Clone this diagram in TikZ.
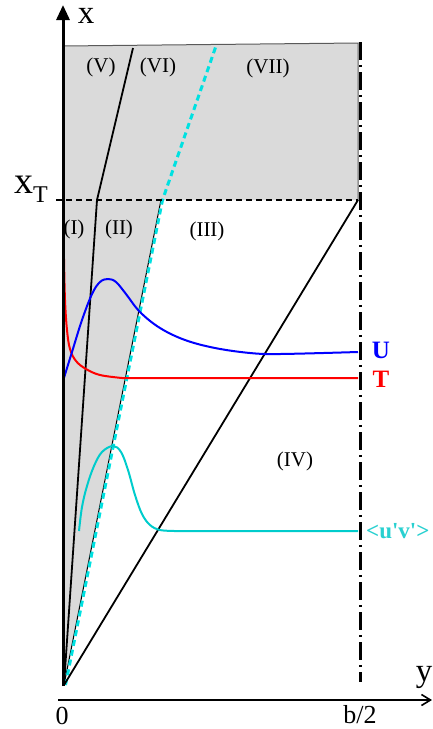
\documentclass[tikz,border=0pt]{standalone}
\usepackage{fontspec}
\setmainfont{Liberation Serif}
\newfontfamily\rawserif[Ligatures=TeXOff]{Liberation Serif}
\usetikzlibrary{arrows.meta}
\definecolor{boxgrey}{RGB}{218,218,218}
\definecolor{boxedge}{RGB}{90,90,90}
\definecolor{cyancurve}{RGB}{0,204,204}
\definecolor{cyandash}{RGB}{0,225,225}
\definecolor{cyantext}{RGB}{40,208,208}
\begin{document}
\begin{tikzpicture}[x=1pt,y=-1pt,
  reg/.style={font=\fontsize{21}{21}\selectfont, inner sep=0pt},
  axlab/.style={font=\fontsize{33}{33}\selectfont, inner sep=0pt},
  ticklab/.style={font=\fontsize{26}{26}\selectfont, inner sep=0pt},
  curvelab/.style={font=\fontsize{25}{25}\selectfont\bfseries, inner sep=0pt},
  mainline/.style={line width=1.8pt, black},
  cyanline/.style={line width=3pt, cyandash, dash pattern=on 6pt off 4pt},
  profile/.style={line width=2pt, line join=round},
]
\useasboundingbox (0,0) rectangle (432,729);
% key points
\coordinate (O) at (64,685);
\coordinate (TL) at (63,46);
\coordinate (TR) at (358,43);
\coordinate (BR) at (358,200);
\coordinate (BL) at (56,200);
\coordinate (K) at (97,200);
\coordinate (Ktop) at (133,48);
\coordinate (C) at (161,200);
\coordinate (Ctop) at (216,46);
\coordinate (Ytop) at (63,5);
\coordinate (Ybot) at (63,686);
\coordinate (Xl) at (58,700);
\coordinate (Xr) at (432,700);
\coordinate (Sym1) at (360,42);
\coordinate (Sym2) at (360,682);
% grey region
\fill[boxgrey] (TL) -- (TR) -- (BR) -- (C) -- (O) -- (Ybot) -- cycle;
\draw[boxedge, line width=1pt] (TL) -- (TR) -- (BR);
% boundary lines
\draw[black, line width=1pt] (O) -- (C);
\draw[cyanline] ([xshift=1.5pt]O) -- ([xshift=1.5pt]C) -- (Ctop);
\draw[mainline] (O) -- (K) -- (Ktop);
\draw[mainline] (O) -- (BR);
\draw[black, line width=1.6pt, dash pattern=on 6pt off 4pt] (BL) -- (BR);
\draw[black, line width=3pt, dash pattern=on 18pt off 5pt on 2pt off 5pt] (Sym1) -- (Sym2);
% profiles
\draw[profile, red] plot[smooth, tension=0.6] coordinates {(64,259) (65,300) (67,330) (70,349) (76,361) (86,369) (100,375) (122,378)} -- (358,378);
\draw[profile, blue] plot[smooth, tension=0.6] coordinates {(63,381) (72,352) (82,320) (92,294) (100,282) (108,279) (116,282) (126,294) (140,312) (160,328) (185,340) (215,348) (250,353) (280,354) (358,352)};
\draw[profile, cyancurve] plot[smooth, tension=0.6] coordinates {(79,531) (82,507) (87,486) (94,466) (102,452) (113,446) (121,452) (128,470) (135,495) (142,514) (150,525) (160,530) (175,531)} -- (358,531);
% axes
\draw[line width=3pt, -{Triangle[length=15pt,width=13pt]}] (Ybot) -- (Ytop);
\draw[line width=1.6pt, -{Straight Barb[length=9pt,width=11pt]}] (Xl) -- (Xr);
% labels
\node[axlab] (xlab) at (86,16) {x};
\node[axlab] (ylab) at (424,677) {y};
\node[anchor=base west, inner sep=0pt] (xT) at (14,193) {\fontsize{38}{38}\selectfont x\raisebox{-9pt}{\fontsize{24}{24}\selectfont T}};
\node[ticklab] (zero) at (62,716) {0};
\node[ticklab] (half) at (360,715) {b/2};
\node[reg] (r5) at (101,67) {(V)};
\node[reg] (r6) at (158,67) {(VI)};
\node[reg] (r7) at (268,68) {(VII)};
\node[reg] (r1) at (74,229) {(I)};
\node[reg] (r2) at (119,229) {(II)};
\node[reg] (r3) at (207,231) {(III)};
\node[reg] (r4) at (295,461) {(IV)};
\node[curvelab, blue] (Ulab) at (381,350) {U};
\node[curvelab, red] (Tlab) at (381,379) {T};
\node[anchor=west, inner sep=0pt, font=\rawserif\fontsize{23}{23}\selectfont\bfseries, text=cyantext] (uvlab) at (366,531) {<u'v'>};
\end{tikzpicture}
\end{document}
